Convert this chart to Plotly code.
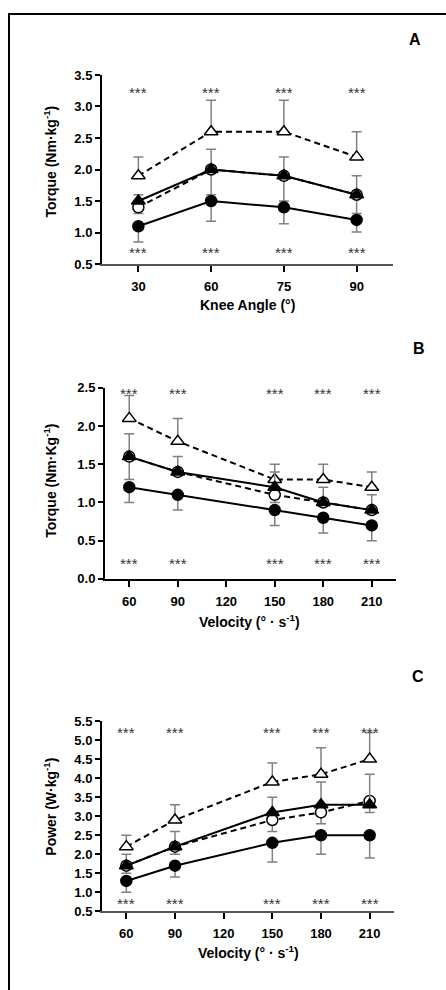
import plotly.graph_objects as go

# ---------------- data ----------------
# Panel A (knee angle, categorical)
A_cats = ["30", "60", "75", "90"]
A_fc = [1.1, 1.5, 1.4, 1.2]      # filled circle, solid
A_fc_sd = [0.25, 0.32, 0.26, 0.19]
A_ft = [1.5, 2.0, 1.9, 1.6]      # filled triangle, solid
A_ft_sd = [0.1, 0.32, 0.3, 0.3]
A_oc = [1.4, 2.0, 1.9, 1.6]      # open circle, dashed
A_oc_sd = [0.1, 0.4, 0.4, 0.3]
A_ot = [1.9, 2.6, 2.6, 2.2]      # open triangle, dashed
A_ot_sd = [0.3, 0.5, 0.5, 0.4]
A_star_top = [3.28, 3.28, 3.28, 3.28]
A_star_bot = [0.75, 0.75, 0.75, 0.75]

# Panel B (velocity, torque)
B_x = [60, 90, 150, 180, 210]
B_fc = [1.2, 1.1, 0.9, 0.8, 0.7]
B_fc_sd = [0.2, 0.2, 0.2, 0.2, 0.2]
B_ft = [1.6, 1.4, 1.2, 1.0, 0.9]
B_ft_sd = [0.3, 0.2, 0.2, 0.2, 0.2]
B_oc = [1.6, 1.4, 1.1, 1.0, 0.9]
B_oc_sd = [0.3, 0.05, 0.1, 0.05, 0.05]
B_ot = [2.1, 1.8, 1.3, 1.3, 1.2]
B_ot_sd = [0.3, 0.3, 0.2, 0.2, 0.2]
B_star_top = [2.48, 2.48, 2.48, 2.48, 2.48]
B_star_bot = [0.25, 0.25, 0.25, 0.25, 0.25]

# Panel C (velocity, power)
C_x = [60, 90, 150, 180, 210]
C_fc = [1.3, 1.7, 2.3, 2.5, 2.5]
C_fc_sd = [0.3, 0.3, 0.5, 0.5, 0.6]
C_ft = [1.7, 2.2, 3.1, 3.3, 3.3]
C_ft_sd = [0.3, 0.4, 0.4, 0.6, 0.8]
C_oc = [1.7, 2.2, 2.9, 3.1, 3.4]
C_oc_sd = [0.2, 0.2, 0.3, 0.3, 0.3]
C_ot = [2.2, 2.9, 3.9, 4.1, 4.5]
C_ot_sd = [0.3, 0.4, 0.5, 0.7, 0.7]
C_star_top = [5.3, 5.3, 5.3, 5.3, 5.3]
C_star_bot = [0.82, 0.82, 0.82, 0.82, 0.82]

vel_ticks = [60, 90, 120, 150, 180, 210]

A_ytitle = "Torque (Nm·kg<sup>-1</sup>)"
B_ytitle = "Torque (Nm·Kg<sup>-1</sup>)"
C_ytitle = "Power (W·kg<sup>-1</sup>)"
A_xtitle = "Knee Angle (°)"
BC_xtitle = "Velocity (° · s<sup>-1</sup>)"

# ---------------- layout helpers ----------------
W, H = 446, 990
FONT = "Liberation Sans, Arial, sans-serif"
ERR_COLOR = "#808080"


def fx(px):
    return px / W


def fy(py):
    return 1 - py / H


fig = go.Figure()


def add_panel(xref, yref, xs, fc, fc_sd, ft, ft_sd, oc, oc_sd, ot, ot_sd):
    zeros = [0] * len(xs)
    specs = [
        (ot, ot_sd, "up", "triangle-up", "white", "dash"),
        (oc, oc_sd, "down", "circle", "white", "dash"),
        (ft, ft_sd, "up", "triangle-up", "black", "solid"),
        (fc, fc_sd, "down", "circle", "black", "solid"),
    ]
    for ys, sd, direction, sym, fill, dash in specs:
        err = dict(type="data", symmetric=False,
                   array=sd if direction == "up" else zeros,
                   arrayminus=zeros if direction == "up" else sd,
                   color=ERR_COLOR, thickness=1.5, width=5)
        fig.add_trace(go.Scatter(
            x=xs, y=ys, xaxis=xref, yaxis=yref, mode="lines+markers",
            line=dict(color="black", width=2,
                      dash="6px,4px" if dash == "dash" else "solid"),
            marker=dict(symbol=sym, size=11 if "circle" in sym else 12,
                        color=fill, line=dict(color="black", width=1.5)),
            error_y=err, showlegend=False, hoverinfo="skip"))


add_panel("x", "y", A_cats, A_fc, A_fc_sd, A_ft, A_ft_sd, A_oc, A_oc_sd, A_ot, A_ot_sd)
add_panel("x2", "y2", B_x, B_fc, B_fc_sd, B_ft, B_ft_sd, B_oc, B_oc_sd, B_ot, B_ot_sd)
add_panel("x3", "y3", C_x, C_fc, C_fc_sd, C_ft, C_ft_sd, C_oc, C_oc_sd, C_ot, C_ot_sd)

tickfont = dict(family=FONT, size=13, color="black", weight="bold")
axis_common = dict(showgrid=False, zeroline=False, showline=True, linewidth=2,
                   linecolor="black", ticks="outside", tickwidth=2,
                   tickcolor="black", tickfont=tickfont, fixedrange=True)

fig.update_layout(
    width=W, height=H, margin=dict(l=0, r=0, t=0, b=0),
    paper_bgcolor="white", plot_bgcolor="white",
    xaxis=dict(axis_common, domain=[fx(102), fx(393)], type="category",
               categoryorder="array", categoryarray=A_cats, range=[-0.5, 3.5],
               anchor="y", ticklen=6, ticklabelstandoff=3, linecolor="#555"),
    yaxis=dict(axis_common, domain=[fy(261), fy(69)], range=[0.5, 3.5],
               dtick=0.5, tickformat=".1f", anchor="x", ticklen=5),
    xaxis2=dict(axis_common, domain=[fx(105), fx(396)], range=[45, 225],
                tickvals=vel_ticks, anchor="y2", ticklen=6, ticklabelstandoff=3),
    yaxis2=dict(axis_common, domain=[fy(580.7), fy(386.7)], range=[0, 2.5],
                dtick=0.5, tickformat=".1f", anchor="x2", ticklen=5),
    xaxis3=dict(axis_common, domain=[fx(102), fx(394)], range=[45, 225],
                tickvals=vel_ticks, anchor="y3", ticklen=6, ticklabelstandoff=3,
                linecolor="#555"),
    yaxis3=dict(axis_common, domain=[fy(918.3), fy(725)], range=[0.5, 5.5],
                dtick=0.5, tickformat=".1f", anchor="x3", ticklen=5),
)

ann = []
star_font = dict(family=FONT, size=15, color="#333")
A_pos = list(range(len(A_cats)))  # category axis: annotations use category index
for xr, yr, xs, tops, bots in [("x", "y", A_pos, A_star_top, A_star_bot),
                               ("x2", "y2", B_x, B_star_top, B_star_bot),
                               ("x3", "y3", C_x, C_star_top, C_star_bot)]:
    for xv, t, b in zip(xs, tops, bots):
        for yv in (t, b):
            ann.append(dict(x=xv, y=yv, xref=xr, yref=yr, text="***",
                            showarrow=False, font=star_font, yshift=-4,
                            xanchor="center", yanchor="middle"))

title_font = dict(family=FONT, size=14, color="black", weight="bold")
letter_font = dict(family=FONT, size=16, color="black", weight="bold")
for txt, x, y in [("A", 415, 33), ("B", 419, 347), ("C", 418, 680)]:
    ann.append(dict(x=fx(x), y=fy(y), xref="paper", yref="paper", text=txt,
                    showarrow=False, font=letter_font,
                    xanchor="center", yanchor="middle"))
for txt, x, y in [(A_ytitle, 50, 157), (B_ytitle, 50, 481), (C_ytitle, 50, 812)]:
    ann.append(dict(x=fx(x), y=fy(y), xref="paper", yref="paper", text=txt,
                    showarrow=False, font=title_font, textangle=-90,
                    xanchor="center", yanchor="middle"))
for txt, x, y in [(A_xtitle, 247.5, 303), (BC_xtitle, 250, 623), (BC_xtitle, 248, 960)]:
    ann.append(dict(x=fx(x), y=fy(y), xref="paper", yref="paper", text=txt,
                    showarrow=False, font=title_font,
                    xanchor="center", yanchor="middle"))
fig.update_layout(annotations=ann)

# outer frame (only top and left edges fall inside the picture)
fig.add_shape(type="rect", xref="paper", yref="paper",
              x0=fx(9), y0=-0.2, x1=1.2, y1=fy(7),
              line=dict(color="black", width=2), fillcolor="rgba(0,0,0,0)")

fig.write_html("out.html")
